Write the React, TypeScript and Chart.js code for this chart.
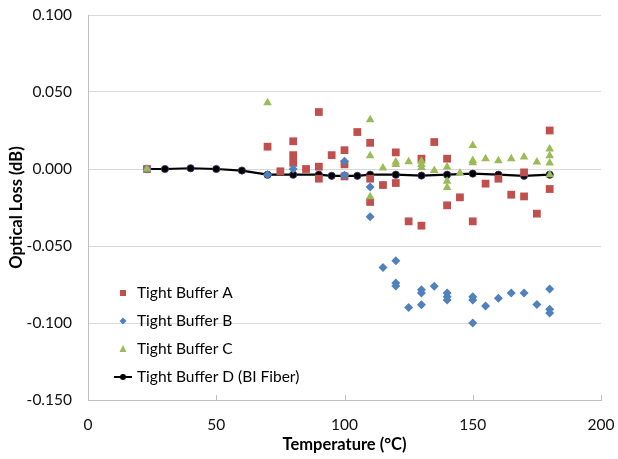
import React, { useEffect, useRef } from "react";
import { Chart, registerables } from "chart.js";

Chart.register(...registerables);

const seriesNames = ["Tight Buffer A", "Tight Buffer B", "Tight Buffer C", "Tight Buffer D (BI Fiber)"];

const aTemps = [23, 70, 75, 80, 80, 80, 85, 90, 90, 90, 95, 100, 100, 100, 105, 110, 110, 110, 115, 120, 120, 125, 130, 130, 135, 140, 140, 145, 150, 155, 160, 165, 170, 170, 175, 180, 180];
const aLoss = [0, 0.0145, -0.0015, 0.018, 0.009, 0.004, 0.0, 0.037, 0.0015, -0.0063, 0.009, 0.0122, 0.003, -0.0048, 0.024, 0.017, -0.0063, -0.0214, -0.0104, 0.0108, -0.0091, -0.034, 0.0067, -0.0368, 0.0175, 0.0067, -0.0236, -0.0184, -0.034, -0.0095, -0.0063, -0.0167, -0.0022, -0.0178, -0.029, 0.025, -0.013];

const bTemps = [23, 70, 80, 100, 100, 110, 110, 115, 120, 120, 120, 125, 130, 130, 130, 135, 140, 140, 140, 150, 150, 150, 155, 160, 165, 170, 175, 180, 180, 180];
const bLoss = [0, -0.0037, 0.0, 0.005, -0.004, -0.0117, -0.031, -0.0639, -0.0595, -0.074, -0.076, -0.0899, -0.0784, -0.0805, -0.0881, -0.0762, -0.0805, -0.083, -0.085, -0.083, -0.085, -0.1, -0.089, -0.084, -0.0805, -0.0805, -0.088, -0.078, -0.091, -0.0935];

const cTemps = [23, 70, 110, 110, 110, 115, 120, 120, 125, 130, 130, 130, 135, 140, 140, 140, 145, 150, 150, 150, 155, 160, 165, 170, 175, 180, 180, 180, 180];
const cLoss = [0, 0.043, 0.032, 0.0086, -0.018, 0.0006, 0.0045, 0.003, 0.0047, 0.005, 0.003, 0.001, -0.001, 0.0013, -0.008, -0.012, -0.0026, 0.0153, 0.0055, 0.004, 0.0067, 0.0054, 0.0067, 0.0078, 0.0045, 0.013, 0.0086, 0.0039, -0.0037];

const dTemps = [23, 30, 40, 50, 60, 70, 80, 90, 95, 100, 105, 110, 120, 130, 140, 150, 160, 170, 180];
const dLoss = [0, 0, 0.0005, 0, -0.001, -0.0037, -0.0037, -0.0037, -0.0044, -0.0044, -0.0044, -0.0037, -0.0037, -0.0043, -0.0037, -0.003, -0.0037, -0.0044, -0.0037];

const xTicks = [0, 50, 100, 150, 200];
const yTicks = [-0.15, -0.1, -0.05, 0, 0.05, 0.1];

const FONT = "Lato";
const RED = "#C0504D";
const BLUE = "#4F81BD";
const GREEN = "#9BBB59";

const toPoints = (xs: number[], ys: number[]) => xs.map((x, i) => ({ x, y: ys[i] }));

const legendPlugin = {
  id: "customLegend",
  afterDraw(chart: any) {
    const ctx = chart.ctx;
    const x0 = 123;
    const textX = 137;
    const ys = [293, 321, 349, 377];
    ctx.save();
    ctx.font = `15.5px ${FONT}`;
    ctx.textBaseline = "middle";
    ctx.textAlign = "left";
    ctx.fillStyle = RED;
    ctx.fillRect(x0 - 3, ys[0] - 3, 6, 6);
    ctx.fillStyle = BLUE;
    ctx.beginPath();
    ctx.moveTo(x0, ys[1] - 3.5);
    ctx.lineTo(x0 + 3.5, ys[1]);
    ctx.lineTo(x0, ys[1] + 3.5);
    ctx.lineTo(x0 - 3.5, ys[1]);
    ctx.closePath();
    ctx.fill();
    ctx.fillStyle = GREEN;
    ctx.beginPath();
    ctx.moveTo(x0, ys[2] - 4);
    ctx.lineTo(x0 + 3.5, ys[2] + 3);
    ctx.lineTo(x0 - 3.5, ys[2] + 3);
    ctx.closePath();
    ctx.fill();
    ctx.strokeStyle = "#000";
    ctx.lineWidth = 2;
    ctx.beginPath();
    ctx.moveTo(x0 - 9, ys[3]);
    ctx.lineTo(x0 + 9, ys[3]);
    ctx.stroke();
    ctx.fillStyle = "#000";
    ctx.beginPath();
    ctx.arc(x0, ys[3], 3, 0, Math.PI * 2);
    ctx.fill();
    seriesNames.forEach((n, i) => ctx.fillText(n, textX, ys[i]));
    const xs = chart.scales.x;
    const bottom = chart.chartArea.bottom;
    ctx.strokeStyle = "#bfbfbf";
    ctx.lineWidth = 1;
    xTicks.forEach((t) => {
      const px = Math.round(xs.getPixelForValue(t)) + 0.5;
      ctx.beginPath();
      ctx.moveTo(px, bottom);
      ctx.lineTo(px, bottom - 5);
      ctx.stroke();
    });
    ctx.restore();
  },
};

export default function App() {
  const ref = useRef<HTMLCanvasElement | null>(null);
  useEffect(() => {
    if (!ref.current) return;
    const chart = new Chart(ref.current, {
      type: "scatter",
      data: {
        datasets: [
          {
            label: seriesNames[0],
            data: toPoints(aTemps, aLoss),
            pointStyle: "rect",
            pointRadius: 5.5,
            backgroundColor: RED,
            borderColor: RED,
            borderWidth: 0,
            order: 3,
          },
          {
            label: seriesNames[1],
            data: toPoints(bTemps, bLoss),
            pointStyle: "rectRot",
            pointRadius: 4.5,
            backgroundColor: BLUE,
            borderColor: BLUE,
            borderWidth: 0,
            order: 2,
          },
          {
            label: seriesNames[2],
            data: toPoints(cTemps, cLoss),
            pointStyle: "triangle",
            pointRadius: 5,
            backgroundColor: GREEN,
            borderColor: GREEN,
            borderWidth: 0,
            order: 1,
          },
          {
            label: seriesNames[3],
            data: toPoints(dTemps, dLoss),
            showLine: true,
            pointStyle: "circle",
            pointRadius: 3.6,
            backgroundColor: "#000",
            borderColor: "#000",
            borderWidth: 2.2,
            pointBorderColor: "#3b2f63",
            pointBorderWidth: 0.8,
            order: 4,
          } as any,
        ],
      },
      options: {
        animation: false,
        responsive: true,
        maintainAspectRatio: false,
        layout: { autoPadding: false, padding: { top: 15, right: 17, left: 0, bottom: 0 } },
        plugins: { legend: { display: false }, tooltip: { enabled: false } },
        scales: {
          x: {
            type: "linear",
            min: 0,
            max: 200,
            afterBuildTicks: (s: any) => {
              s.ticks = xTicks.map((v) => ({ value: v }));
            },
            afterFit: (s: any) => {
              s.height = 59;
              s.paddingLeft = 0;
              s.paddingRight = 0;
            },
            ticks: { font: { family: FONT, size: 15.5 }, color: "#111", padding: 16, maxRotation: 0 },
            grid: { display: false, drawTicks: false },
            border: { display: true, color: "#bfbfbf" },
            title: {
              display: true,
              text: "Temperature (°C)",
              font: { family: FONT, size: 16.5, weight: "bold" },
              color: "#000",
              padding: { top: 0, bottom: 4 },
            },
          },
          y: {
            type: "linear",
            min: -0.15,
            max: 0.1,
            afterBuildTicks: (s: any) => {
              s.ticks = yTicks.map((v) => ({ value: v }));
            },
            afterFit: (s: any) => {
              s.width = 88;
              s.paddingTop = 0;
              s.paddingBottom = 0;
            },
            ticks: {
              font: { family: FONT, size: 15.5 },
              color: "#111",
              padding: 16,
              callback: (v: any) => Number(v).toFixed(3),
            },
            grid: { color: "#d9d9d9", drawTicks: false },
            border: { display: true, color: "#bfbfbf" },
            title: {
              display: true,
              text: "Optical Loss (dB)",
              font: { family: FONT, size: 16.5, weight: "bold" },
              color: "#000",
              padding: { top: 7, bottom: 0 },
            },
          },
        },
      },
      plugins: [legendPlugin],
    } as any);
    return () => chart.destroy();
  }, []);
  return (
    <div style={{ position: "fixed", left: 0, top: 0, width: 618, height: 459, background: "#fff" }}>
      <canvas ref={ref} />
    </div>
  );
}
